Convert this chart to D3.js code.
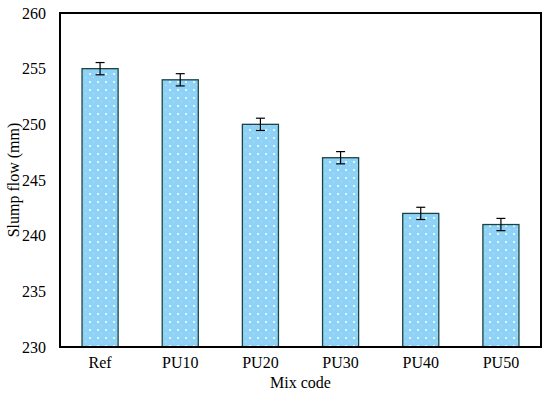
<!DOCTYPE html>
<html><head><meta charset="utf-8">
<script src="https://cdn.jsdelivr.net/npm/d3@7"></script>
<style>body{margin:0;background:#fff}</style>
</head><body>
<svg id="c" width="550" height="394"></svg>
<script>
const categories = ["Ref","PU10","PU20","PU30","PU40","PU50"];
const values = [255,254,250,247,242,241];
const errors = [0.55,0.55,0.55,0.55,0.55,0.55];
const yTicks = [230,235,240,245,250,255,260];

const svg = d3.select("#c");
const m = {l:60, r:541, t:13, b:347};
const x = d3.scaleBand().domain(categories).range([m.l, m.r]).paddingInner(0.55).paddingOuter(0.275);
const y = d3.scaleLinear().domain([230,260]).range([m.b, m.t]);

const defs = svg.append("defs");
const pat = defs.append("pattern").attr("id","dots").attr("patternUnits","userSpaceOnUse")
  .attr("width",8).attr("height",8);
pat.append("rect").attr("width",8).attr("height",8).attr("fill","#8fd2f6");
pat.append("rect").attr("x",1).attr("y",1).attr("width",2).attr("height",2).attr("fill","#d8f6ff");
pat.append("rect").attr("x",5).attr("y",5).attr("width",1).attr("height",1).attr("fill","#c0eaff");

const font = "'Liberation Serif','Times New Roman',serif";

svg.selectAll("rect.bar").data(values).enter().append("rect")
  .attr("class","bar")
  .attr("x",(d,i)=>x(categories[i]))
  .attr("y",d=>y(d))
  .attr("width",x.bandwidth())
  .attr("height",d=>y(230)-y(d))
  .attr("fill","url(#dots)")
  .attr("stroke","#1a4444").attr("stroke-width",1.3);

const eg = svg.append("g").attr("stroke","#000").attr("stroke-width",1.2);
values.forEach((v,i)=>{
  const cx = x(categories[i]) + x.bandwidth()/2;
  eg.append("line").attr("x1",cx).attr("x2",cx).attr("y1",y(v+errors[i])).attr("y2",y(v-errors[i]));
  eg.append("line").attr("x1",cx-4.5).attr("x2",cx+4.5).attr("y1",y(v+errors[i])).attr("y2",y(v+errors[i]));
  eg.append("line").attr("x1",cx-4.5).attr("x2",cx+4.5).attr("y1",y(v-errors[i])).attr("y2",y(v-errors[i]));
});

svg.append("rect").attr("x",m.l).attr("y",m.t).attr("width",m.r-m.l).attr("height",m.b-m.t)
  .attr("fill","none").attr("stroke","#000").attr("stroke-width",2);

const yAxis = d3.axisLeft(y).tickValues(yTicks).tickSize(0).tickPadding(14);
const gy = svg.append("g").attr("transform",`translate(${m.l},0)`).call(yAxis);
gy.select(".domain").remove();
gy.selectAll("text").attr("font-family",font).attr("font-size",16).attr("fill","#000");

const xAxis = d3.axisBottom(x).tickSize(0).tickPadding(10);
const gx = svg.append("g").attr("transform",`translate(0,${m.b})`).call(xAxis);
gx.select(".domain").remove();
gx.selectAll("text").attr("font-family",font).attr("font-size",16).attr("fill","#000");

svg.append("text").attr("x",(m.l+m.r)/2).attr("y",388).attr("text-anchor","middle")
  .attr("font-family",font).attr("font-size",16).text("Mix code");
svg.append("text").attr("transform",`translate(19,${(m.t+m.b)/2}) rotate(-90)`).attr("text-anchor","middle")
  .attr("font-family",font).attr("font-size",16).text("Slump flow (mm)");
</script>
</body></html>
